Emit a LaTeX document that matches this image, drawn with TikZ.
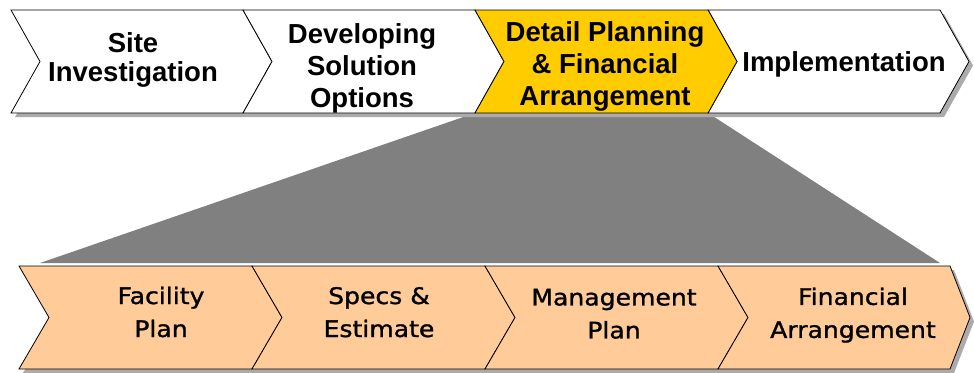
\documentclass[tikz,border=0pt]{standalone}
\usepackage{fontspec}
\newfontfamily\topfont{Liberation Sans}
\newfontfamily\botfont{DejaVu Sans}[FakeStretch=1.1,FakeBold=1.2]
\definecolor{gold}{HTML}{FFCC00}
\definecolor{peach}{HTML}{FFCC99}
\definecolor{wedge}{HTML}{808080}
\definecolor{shade}{HTML}{ABABAB}
\tikzset{
  chev/.style={draw=black, line width=0.8pt, line join=miter},
  shadowbox/.style={fill=shade, draw=none},
  wedgebox/.style={fill=wedge, draw=none},
  toplabel/.style={font=\topfont\bfseries\fontsize{27.5}{32}\selectfont, align=center, inner sep=0pt},
  botlabel/.style={font=\botfont\fontsize{22.8}{33}\selectfont, align=center, inner sep=0pt},
}
\begin{document}
\begin{tikzpicture}[x=1pt,y=-1pt]
\useasboundingbox (0,0) rectangle (974,372);
% zoom wedge
\path[wedgebox] (475,113) -- (708,113) -- (940,263) -- (40,263) -- cycle;
% top row shadow
\path[shadowbox] (15,14) -- (944,14) -- (973,65.5) -- (944,117) -- (15,117) -- (44,65.5) -- cycle;
% top row chevrons
\foreach \xa/\xb/\col in {11/243/white, 243/475/white, 708/940/white, 475/708/gold}{
  \filldraw[chev, fill=\col] (\xa,10) -- (\xb,10) -- (\xb+29,61.5) -- (\xb,113) -- (\xa,113) -- (\xa+29,61.5) -- cycle;
}
% bottom row shadow
\path[shadowbox] (23,270) -- (954,270) -- (974,321.5) -- (954,373) -- (23,373) -- (53,321.5) -- cycle;
% bottom row chevrons
\foreach \xa/\xb/\d in {19/252/30, 252/485/30, 485/718/30, 718/950/20}{
  \filldraw[chev, fill=peach] (\xa,266) -- (\xb,266) -- (\xb+\d,317.5) -- (\xb,369) -- (\xa,369) -- (\xa+30,317.5) -- cycle;
}
% labels
\node[toplabel, font=\topfont\bfseries\fontsize{27.5}{29}\selectfont] (t1) at (133,60.3) {Site\\Investigation};
\node[toplabel] (t2) at (362,68.2) {Developing\\Solution\\Options};
\node[toplabel] (t3) at (605,66.7) {Detail Planning\\\& Financial\\Arrangement};
\node[toplabel] (t4) at (844,64.2) {Implementation};
\node[botlabel] (b1) at (161,312) {Facility\\Plan};
\node[botlabel] (b2) at (379,312.2) {Specs \&\\Estimate};
\node[botlabel] (b3) at (614,313.8) {Management\\Plan};
\node[botlabel] (b4) at (853,315.1) {Financial\\Arrangement};
\end{tikzpicture}
\end{document}
